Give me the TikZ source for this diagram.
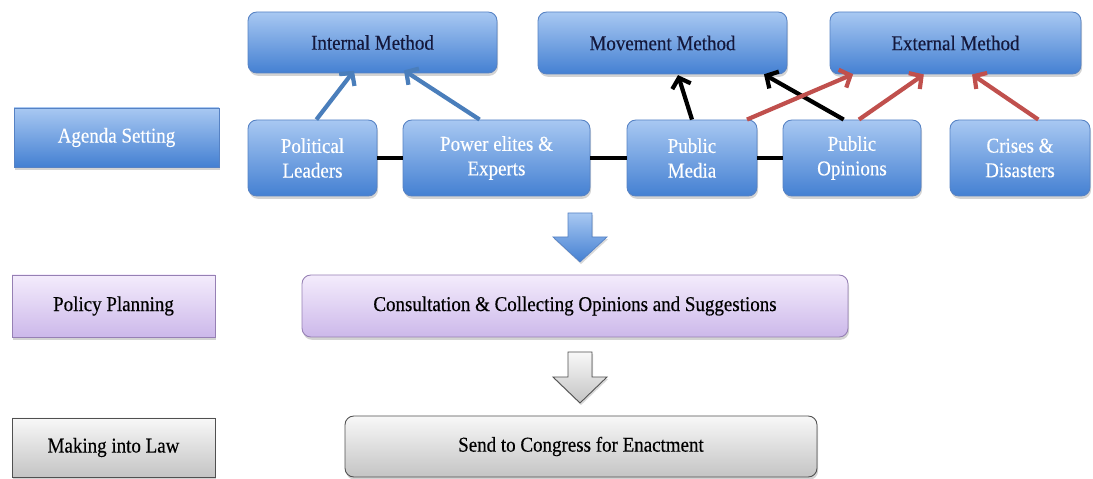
\documentclass[tikz,border=0pt]{standalone}
\usepackage{fontspec}
\setmainfont[FakeStretch=0.9,FakeBold=0.35]{Liberation Serif}
\usetikzlibrary{arrows.meta,shadows,calc}
\definecolor{bluetop}{RGB}{168,200,242}
\definecolor{bluebot}{RGB}{68,128,210}
\definecolor{blueline}{RGB}{86,130,196}
\definecolor{purptop}{RGB}{244,236,252}
\definecolor{purpbot}{RGB}{204,184,234}
\definecolor{purpline}{RGB}{150,128,180}
\definecolor{greytop}{RGB}{248,248,248}
\definecolor{greybot}{RGB}{196,196,196}
\definecolor{greyline}{RGB}{80,80,80}
\definecolor{navytext}{RGB}{20,24,60}
\definecolor{arrblue}{RGB}{74,126,187}
\definecolor{arrred}{RGB}{192,80,77}
\tikzset{
  basebox/.style={draw, line width=0.5pt, inner sep=0pt, align=center,
    font=\fontsize{12}{14}\selectfont,
    drop shadow={shadow xshift=0.6pt, shadow yshift=-1.6pt, opacity=0.35}},
  bluebox/.style={basebox, rounded corners=5pt, draw=blueline, top color=bluetop, bottom color=bluebot, text=white},
  methodbox/.style={bluebox, text=navytext},
  stagebox/.style={basebox, draw=blueline, top color=bluetop, bottom color=bluebot, text=white},
  purpbox/.style={basebox, rounded corners=5pt, draw=purpline, top color=purptop, bottom color=purpbot, text=black},
  purpstage/.style={basebox, draw=purpline, top color=purptop, bottom color=purpbot, text=black},
  greybox/.style={basebox, rounded corners=5pt, draw=greyline, top color=greytop, bottom color=greybot, text=black},
  greystage/.style={basebox, draw=greyline, top color=greytop, bottom color=greybot, text=black},
  link/.style={line width=2.3pt, draw=black},
  arr/.style={line width=2.4pt, -{Straight Barb[length=5pt,width=11pt]}, shorten >=1pt},
}
\newcommand\boxat[7]{\node[#6, minimum width={(#4-#2)*0.02cm}, minimum height={(#5-#3)*0.02cm}] (#1) at ({(#2+#4)/2},{(#3+#5)/2}) {#7};}
\begin{document}
\begin{tikzpicture}[x=0.02cm,y=-0.02cm]
\useasboundingbox (0,0) rectangle (1093,479);
% top methods
\boxat{im}{248}{12}{497}{73}{methodbox}{Internal Method}
\boxat{mm}{538}{12}{787}{74}{methodbox}{Movement Method}
\boxat{em}{830}{12}{1081}{74}{methodbox}{External Method}
% agenda row
\boxat{as}{14}{108}{219}{167}{stagebox}{Agenda Setting}
\boxat{pl}{248}{120}{377}{196}{bluebox}{Political\\Leaders}
\boxat{pe}{403}{120}{590}{196}{bluebox}{Power elites \&\\Experts}
\boxat{pm}{627}{120}{757}{196}{bluebox}{Public\\Media}
\boxat{po}{783}{120}{921}{196}{bluebox}{Public\\Opinions}
\boxat{cd}{950}{120}{1090}{196}{bluebox}{Crises \&\\Disasters}
% policy planning
\boxat{pp}{12}{275}{215}{337}{purpstage}{Policy Planning}
\boxat{cc}{302}{275}{848}{337}{purpbox}{Consultation \& Collecting Opinions and Suggestions}
% law
\boxat{ml}{12}{418}{215}{477}{greystage}{Making into Law}
\boxat{sc}{345}{416}{817}{477}{greybox}{Send to Congress for Enactment}
% horizontal links
\draw[link] (pl.east) -- (pe.west);
\draw[link] (pe.east) -- (pm.west);
\draw[link] (pm.east) -- (po.west);
% anchors
\coordinate (plS) at ($(pl.north west)!0.53!(pl.north east)$);
\coordinate (peS) at ($(pe.north west)!0.41!(pe.north east)$);
\coordinate (imA) at ($(im.south west)!0.43!(im.south east)+(0,-4)$);
\coordinate (imB) at ($(im.south west)!0.62!(im.south east)+(0,-4)$);
\coordinate (pmS) at ($(pm.north west)!0.50!(pm.north east)$);
\coordinate (pmR) at ($(pm.north west)!0.92!(pm.north east)$);
\coordinate (poS) at ($(po.north west)!0.44!(po.north east)$);
\coordinate (poR) at ($(po.north west)!0.55!(po.north east)$);
\coordinate (cdS) at ($(cd.north west)!0.63!(cd.north east)$);
\coordinate (mmA) at ($(mm.south west)!0.56!(mm.south east)+(0,-1)$);
\coordinate (mmB) at ($(mm.south west)!0.90!(mm.south east)+(0,-1)$);
\coordinate (emA) at ($(em.south west)!0.10!(em.south east)+(0,-1)$);
\coordinate (emB) at ($(em.south west)!0.38!(em.south east)+(0,-1)$);
\coordinate (emC) at ($(em.south west)!0.56!(em.south east)+(0,-1)$);
% arrows
\draw[arr, arrblue] (plS) -- (imA);
\draw[arr, arrblue] (peS) -- (imB);
\draw[arr, black] (pmS) -- (mmA);
\draw[arr, black] (poS) -- (mmB);
\draw[arr, arrred] (pmR) -- (emA);
\draw[arr, arrred] (poR) -- (emB);
\draw[arr, arrred] (cdS) -- (emC);
% block arrows
\path[draw=blueline, line width=0.4pt, top color=bluetop, bottom color=bluebot,
  drop shadow={shadow xshift=0.6pt, shadow yshift=-1.2pt, opacity=0.3}]
  (568,213) -- (592,213) -- (592,237) -- (607,237) -- (580,262) -- (553,237) -- (568,237) -- cycle;
\path[draw=greyline, line width=0.5pt, top color=greytop, bottom color=greybot,
  drop shadow={shadow xshift=0.6pt, shadow yshift=-1.2pt, opacity=0.3}]
  (568,352) -- (592,352) -- (592,377) -- (607,377) -- (580,403) -- (553,377) -- (568,377) -- cycle;
\end{tikzpicture}
\end{document}
